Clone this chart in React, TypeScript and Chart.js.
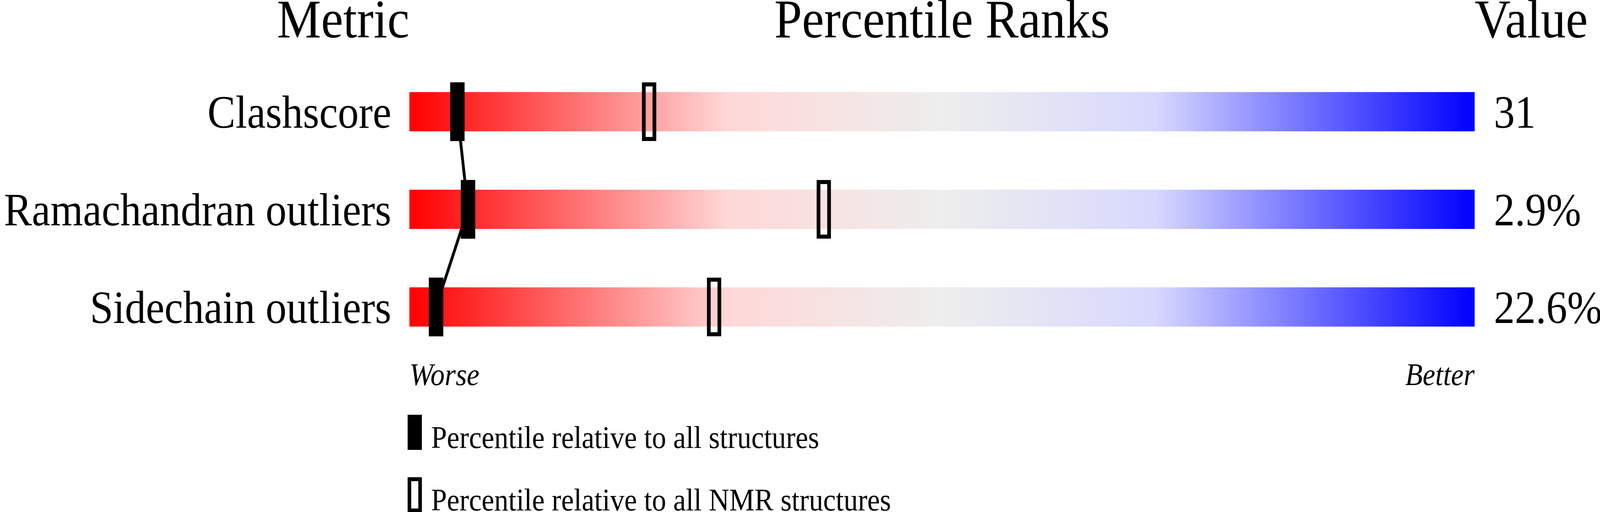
import { useEffect, useRef } from "react";
import { Chart, registerables, Plugin } from "chart.js";

Chart.register(...registerables);

// data
const metrics = ["Clashscore", "Ramachandran outliers", "Sidechain outliers"];
const metricValues = ["31", "2.9%", "22.6%"];
const percentileAll = [4.5, 5.5, 2.5];
const percentileNmr = [22.5, 38.9, 28.6];

const headers = ["Metric", "Percentile Ranks", "Value"];
const axisEnds = ["Worse", "Better"];
const legendLabels = [
  "Percentile relative to all structures",
  "Percentile relative to all NMR structures",
];

const FONT = "Liberation Serif";
// drawn at the reference size, then fitted to the window with a css scale
const W = 4506;
const H = 1311;
// marker is 40px wide on a 3000px track of 100 percentile units
const MARKER_HALF = 20 / 30;

// red -> grey -> blue slider colours
const gradientStops: [number, string][] = [
  [0, "#ff0000"],
  [0.3, "#ffd8d8"],
  [0.5, "#eeeeee"],
  [0.7, "#d8d8ff"],
  [1, "#0000ff"],
];

const textPlugin: Plugin = {
  id: "pageText",
  afterDraw(chart) {
    const { ctx, chartArea } = chart;
    ctx.save();
    ctx.fillStyle = "#000";
    ctx.textBaseline = "alphabetic";

    ctx.font = `140px "${FONT}"`;
    ctx.textAlign = "right";
    ctx.fillText(headers[0], chartArea.left, 96);
    ctx.textAlign = "center";
    ctx.fillText(headers[1], (chartArea.left + chartArea.right) / 2, 96);
    ctx.textAlign = "left";
    ctx.fillText(headers[2], chartArea.right, 96);

    ctx.font = `italic 80px "${FONT}"`;
    ctx.textAlign = "left";
    ctx.fillText(axisEnds[0], chartArea.left, 986);
    ctx.textAlign = "right";
    ctx.fillText(axisEnds[1], chartArea.right, 986);

    // legend
    ctx.font = `80px "${FONT}"`;
    ctx.textAlign = "left";
    legendLabels.forEach((label, i) => {
      const top = 1062 + i * 160;
      const left = chartArea.left - 5;
      ctx.fillStyle = "#000";
      ctx.fillRect(left, top, 40, 90);
      if (i === 1) {
        ctx.fillStyle = "#fff";
        ctx.fillRect(left + 10, top + 10, 20, 70);
        ctx.fillStyle = "#000";
      }
      ctx.fillText(label, chartArea.left + 61, top + 85);
    });
    ctx.restore();
  },
};

export default function App() {
  const canvasRef = useRef<HTMLCanvasElement>(null);
  const chartRef = useRef<Chart | null>(null);

  useEffect(() => {
    const canvas = canvasRef.current;
    if (!canvas) return;
    if (chartRef.current) chartRef.current.destroy();

    const sx = window.innerWidth / W;
    const sy = window.innerHeight / H;
    canvas.style.transformOrigin = "0 0";
    canvas.style.transform = `scale(${sx}, ${sy})`;

    chartRef.current = new Chart(canvas, {
      type: "bar",
      data: {
        labels: metrics,
        datasets: [
          {
            type: "bar",
            label: "All structures",
            data: percentileAll.map((p) => [p - MARKER_HALF, p + MARKER_HALF]),
            backgroundColor: "#000",
            borderWidth: 0,
            barThickness: 150,
            grouped: false,
            order: 1,
          },
          {
            type: "bar",
            label: "NMR structures",
            data: percentileNmr.map((p) => [p - MARKER_HALF, p + MARKER_HALF]),
            backgroundColor: "rgba(0,0,0,0)",
            borderColor: "#000",
            borderWidth: 10,
            borderSkipped: false,
            barThickness: 150,
            grouped: false,
            order: 1,
          },
          {
            type: "line",
            label: "All structures link",
            indexAxis: "y",
            data: percentileAll,
            borderColor: "#000",
            borderWidth: 8,
            pointRadius: 0,
            fill: false,
            clip: false,
            order: 2,
          },
          {
            type: "bar",
            label: "Range",
            data: metrics.map(() => [0, 100]),
            barThickness: 100,
            grouped: false,
            borderWidth: 0,
            order: 5,
            backgroundColor: (c: any) => {
              const area = c.chart.chartArea;
              if (!area) return "rgba(0,0,0,0)";
              const g = c.chart.ctx.createLinearGradient(area.left, 0, area.right, 0);
              gradientStops.forEach(([o, col]) => g.addColorStop(o, col));
              return g;
            },
          },
        ] as any,
      },
      options: {
        indexAxis: "y",
        animation: false,
        responsive: false,
        devicePixelRatio: 1,
        events: [],
        layout: { padding: { top: 161, bottom: 400, left: 0, right: 0 } },
        plugins: {
          legend: { display: false },
          tooltip: { enabled: false },
        },
        scales: {
          x: {
            type: "linear",
            min: 0,
            max: 100,
            display: false,
          },
          y: {
            type: "category",
            position: "left",
            offset: true,
            grid: { display: false, drawTicks: false },
            border: { display: false },
            ticks: {
              color: "#000",
              font: { family: FONT, size: 118 },
              padding: 51,
              labelOffset: 10,
            },
            afterFit: (scale: any) => {
              scale.width = 1153;
            },
          },
          yValue: {
            type: "category",
            position: "right",
            labels: metricValues,
            offset: true,
            grid: { display: false, drawTicks: false },
            border: { display: false },
            ticks: {
              color: "#000",
              font: { family: FONT, size: 118 },
              padding: 54,
              labelOffset: 10,
            },
            afterFit: (scale: any) => {
              scale.width = 353;
            },
          },
        },
      },
      plugins: [textPlugin],
    });

    return () => {
      if (chartRef.current) {
        chartRef.current.destroy();
        chartRef.current = null;
      }
    };
  }, []);

  return (
    <div
      style={{
        position: "fixed",
        left: 0,
        top: 0,
        width: "100vw",
        height: "100vh",
        overflow: "hidden",
        background: "#fff",
      }}
    >
      <canvas ref={canvasRef} width={W} height={H} style={{ display: "block" }} />
    </div>
  );
}
